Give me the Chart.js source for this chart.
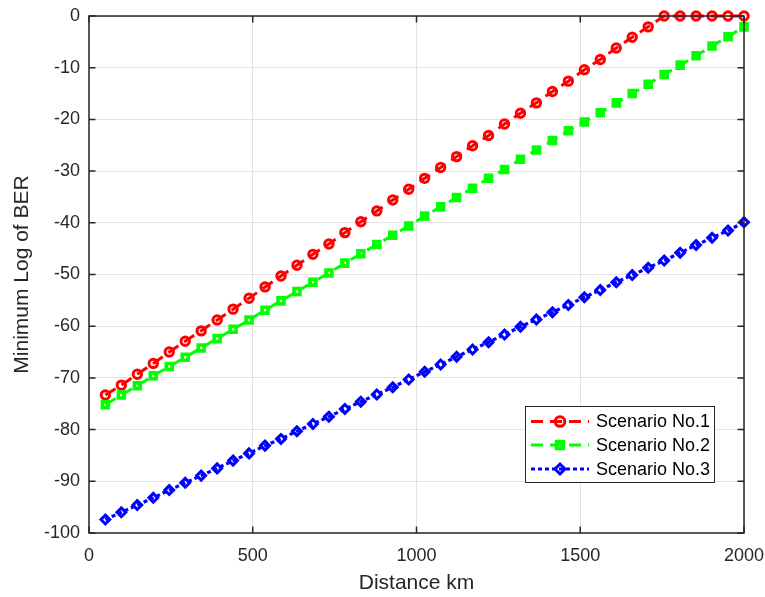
<!DOCTYPE html>
<html>
<head>
<meta charset="utf-8">
<script src="https://cdn.jsdelivr.net/npm/chart.js@4.4.1/dist/chart.umd.min.js"></script>
<style>
  html, body { margin: 0; padding: 0; background: #fff; }
  #wrap { width: 765px; height: 597px; }
</style>
</head>
<body>
<div id="wrap"><canvas id="ber"></canvas></div>
<script>
// distance samples (km)
const distance = [50, 98.75, 147.5, 196.25, 245, 293.75, 342.5, 391.25, 440, 488.75,
  537.5, 586.25, 635, 683.75, 732.5, 781.25, 830, 878.75, 927.5, 976.25,
  1025, 1073.75, 1122.5, 1171.25, 1220, 1268.75, 1317.5, 1366.25, 1415, 1463.75,
  1512.5, 1561.25, 1610, 1658.75, 1707.5, 1756.25, 1805, 1853.75, 1902.5, 1951.25, 2000];
// minimum log of BER per scenario
const scenario1 = [-73.3, -71.4, -69.3, -67.2, -65.0, -62.9, -60.9, -58.8, -56.7, -54.6,
  -52.4, -50.3, -48.2, -46.1, -44.1, -41.9, -39.8, -37.7, -35.6, -33.5,
  -31.4, -29.3, -27.2, -25.1, -23.1, -20.9, -18.8, -16.8, -14.6, -12.6,
  -10.4, -8.4, -6.2, -4.1, -2.1, 0, 0, 0, 0, 0, 0];
const scenario2 = [-75.2, -73.3, -71.5, -69.6, -67.8, -66.0, -64.2, -62.4, -60.6, -58.8,
  -56.9, -55.1, -53.3, -51.5, -49.7, -47.8, -46.0, -44.2, -42.4, -40.6,
  -38.7, -36.9, -35.1, -33.3, -31.4, -29.7, -27.7, -25.9, -24.1, -22.2,
  -20.5, -18.7, -16.8, -15.0, -13.2, -11.3, -9.5, -7.7, -5.8, -4.0, -2.1];
const scenario3 = [-97.4, -96.0, -94.6, -93.2, -91.7, -90.3, -88.9, -87.5, -86.0, -84.6,
  -83.1, -81.8, -80.3, -78.9, -77.5, -76.0, -74.6, -73.2, -71.8, -70.3,
  -68.8, -67.4, -65.9, -64.5, -63.1, -61.6, -60.1, -58.7, -57.3, -55.9,
  -54.4, -53.0, -51.5, -50.1, -48.7, -47.3, -45.8, -44.3, -42.9, -41.5, -39.9];
const seriesNames = ["Scenario No.1", "Scenario No.2", "Scenario No.3"];
const xTicks = [0, 500, 1000, 1500, 2000];

const axisColor = "#262626";
const toPoints = (ys) => ys.map((y, i) => ({ x: distance[i], y: y }));

//styles for each scenario
const styles = [
  { color: "#ff0000", dash: [12, 7], width: 3, point: "circle", radius: 4.2, pborder: 3 },
  { color: "#00ff00", dash: [12, 7], width: 3, point: "rect", radius: 4.2, pborder: 3.6 },
  { color: "#0000ff", dash: [4, 3], width: 3.2, point: "rectRot", radius: 4.4, pborder: 3 },
];
const allData = [scenario1, scenario2, scenario3];

//inward ticks, box and legend like matlab
const boxPlugin = {
  id: "box",
  afterDraw(chart) {
    const ctx = chart.ctx;
    const a = chart.chartArea;
    const xs = chart.scales.x, ys = chart.scales.y;
    const tl = 6.5;
    ctx.save();
    ctx.strokeStyle = axisColor;
    ctx.lineWidth = 1.5;
    ctx.beginPath();
    xs.ticks.forEach((t) => {
      const px = xs.getPixelForValue(t.value);
      ctx.moveTo(px, a.bottom); ctx.lineTo(px, a.bottom - tl);
      ctx.moveTo(px, a.top); ctx.lineTo(px, a.top + tl);
    });
    ys.ticks.forEach((t) => {
      const py = ys.getPixelForValue(t.value);
      ctx.moveTo(a.left, py); ctx.lineTo(a.left + tl, py);
      ctx.moveTo(a.right, py); ctx.lineTo(a.right - tl, py);
    });
    ctx.stroke();
    ctx.strokeRect(a.left, a.top, a.right - a.left, a.bottom - a.top);

    // legend
    const lx = 525.5, ly = 406.5, lw = 189, lh = 76;
    ctx.fillStyle = "#fff";
    ctx.fillRect(lx, ly, lw, lh);
    ctx.lineWidth = 1;
    ctx.strokeStyle = axisColor;
    ctx.strokeRect(lx, ly, lw, lh);
    const rows = [421.5, 445, 469];
    ctx.font = "18px 'Liberation Sans', Arial, sans-serif";
    ctx.textBaseline = "middle";
    rows.forEach((ry, i) => {
      const s = styles[i];
      ctx.save();
      ctx.strokeStyle = s.color;
      ctx.lineWidth = s.width;
      ctx.setLineDash(s.dash);
      ctx.beginPath();
      ctx.moveTo(531, ry); ctx.lineTo(589, ry);
      ctx.stroke();
      ctx.setLineDash([]);
      ctx.lineWidth = s.pborder;
      ctx.fillStyle = "rgba(0,0,0,0)";
      Chart.helpers.drawPoint(ctx, { pointStyle: s.point, radius: s.radius + 0.6, rotation: 0, borderWidth: s.pborder }, 560, ry);
      ctx.restore();
      ctx.fillStyle = "#000";
      ctx.fillText(seriesNames[i], 596, ry + 1);
    });
    ctx.restore();
  },
};

new Chart(document.getElementById("ber"), {
  type: "line",
  plugins: [boxPlugin],
  data: {
    datasets: allData.map((d, i) => ({
      label: seriesNames[i],
      data: toPoints(d),
      order: 3 - i,
      borderColor: styles[i].color,
      borderWidth: styles[i].width,
      borderDash: styles[i].dash,
      pointStyle: styles[i].point,
      pointRadius: styles[i].radius,
      pointBorderWidth: styles[i].pborder,
      pointBorderColor: styles[i].color,
      pointBackgroundColor: "rgba(0,0,0,0)",
      tension: 0,
      clip: false,
    })),
  },
  options: {
    responsive: true,
    maintainAspectRatio: false,
    animation: false,
    layout: { padding: { left: 0, right: 21, top: 16, bottom: 0 } },
    plugins: {
      legend: { display: false },
      tooltip: { enabled: false },
    },
    scales: {
      x: {
        type: "linear",
        min: 0,
        max: 2000,
        afterBuildTicks: (s) => { s.ticks = xTicks.map((v) => ({ value: v })); },
        afterFit: (s) => { s.height = 64; s.paddingLeft = 0; s.paddingRight = 0; },
        grid: { color: "#e3e3e3", lineWidth: 1, drawTicks: false },
        border: { display: false },
        ticks: {
          padding: 12,
          color: axisColor,
          maxRotation: 0,
          callback: (v) => String(v),
          font: { family: "'Liberation Sans', Arial, sans-serif", size: 18 },
        },
        title: {
          display: true,
          text: "Distance km",
          color: axisColor,
          padding: { top: 0, bottom: 1 },
          font: { family: "'Liberation Sans', Arial, sans-serif", size: 21 },
        },
      },
      y: {
        min: -100,
        max: 0,
        afterFit: (s) => { s.width = 89; s.paddingTop = 0; s.paddingBottom = 0; },
        grid: { color: "#e3e3e3", lineWidth: 1, drawTicks: false },
        border: { display: false },
        ticks: {
          stepSize: 10,
          padding: 9,
          color: axisColor,
          font: { family: "'Liberation Sans', Arial, sans-serif", size: 18 },
        },
        title: {
          display: true,
          text: "Minimum Log of BER",
          color: axisColor,
          padding: { top: 10, bottom: 10 },
          font: { family: "'Liberation Sans', Arial, sans-serif", size: 21 },
        },
      },
    },
  },
});
</script>
</body>
</html>
